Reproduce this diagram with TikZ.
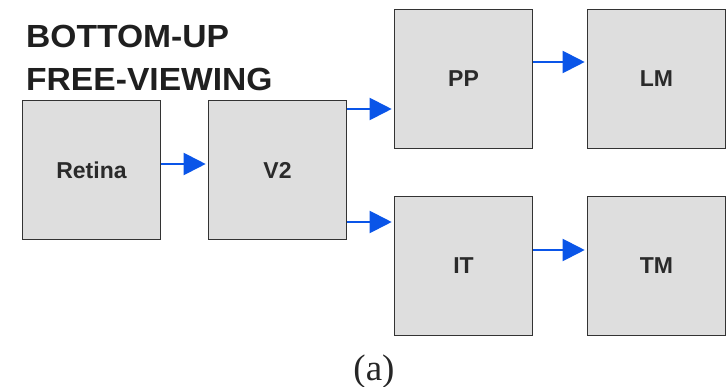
\documentclass[tikz,border=0pt]{standalone}
\usepackage{fontspec}
\setmainfont{Liberation Serif}
\newfontfamily\arialf{Liberation Sans}
\usetikzlibrary{arrows.meta}
\definecolor{boxfill}{HTML}{DEDEDE}
\definecolor{boxline}{HTML}{333333}
\definecolor{labeltext}{HTML}{2A2A2A}
\definecolor{arrblue}{HTML}{0A55E8}
\tikzset{
  area/.style={draw=boxline, line width=1.6pt, fill=boxfill, minimum width=138pt, minimum height=139pt, inner sep=0pt, font=\arialf\bfseries\fontsize{23}{26}\selectfont, text=labeltext},
  titletext/.style={anchor=base west, inner sep=0pt, font=\arialf\bfseries\fontsize{32}{36}\selectfont, text=black!88, xscale=1.05, transform shape},
  link/.style={draw=arrblue, line width=2pt, -{Triangle[length=22pt,width=22pt]}, shorten >=2pt}
}
\begin{document}
\begin{tikzpicture}[x=1pt,y=-1pt]
\useasboundingbox (0,0) rectangle (727,387);
\node[area] (retina) at (91.5,170) {Retina};
\node[area] (v2) at (277.5,170) {V2};
\node[area] (pp) at (463.5,79) {PP};
\node[area] (lm) at (656.5,79) {LM};
\node[area] (it) at (463.5,266) {IT};
\node[area] (tm) at (656.5,266) {TM};
\node[titletext] (title1) at (26,48) {BOTTOM-UP};
\node[titletext] (title2) at (26,91) {FREE-VIEWING};
\node[anchor=base, inner sep=0pt, font=\fontsize{37}{40}\selectfont, text=black!85] (cap) at (374,380) {(a)};
\draw[link] (retina.east |- 0,164) -- (v2.west |- 0,164);
\draw[link] (v2.east |- 0,109) -- (pp.west |- 0,109);
\draw[link] (v2.east |- 0,222) -- (it.west |- 0,222);
\draw[link] (pp.east |- 0,62) -- (lm.west |- 0,62);
\draw[link] (it.east |- 0,250) -- (tm.west |- 0,250);
\end{tikzpicture}
\end{document}
